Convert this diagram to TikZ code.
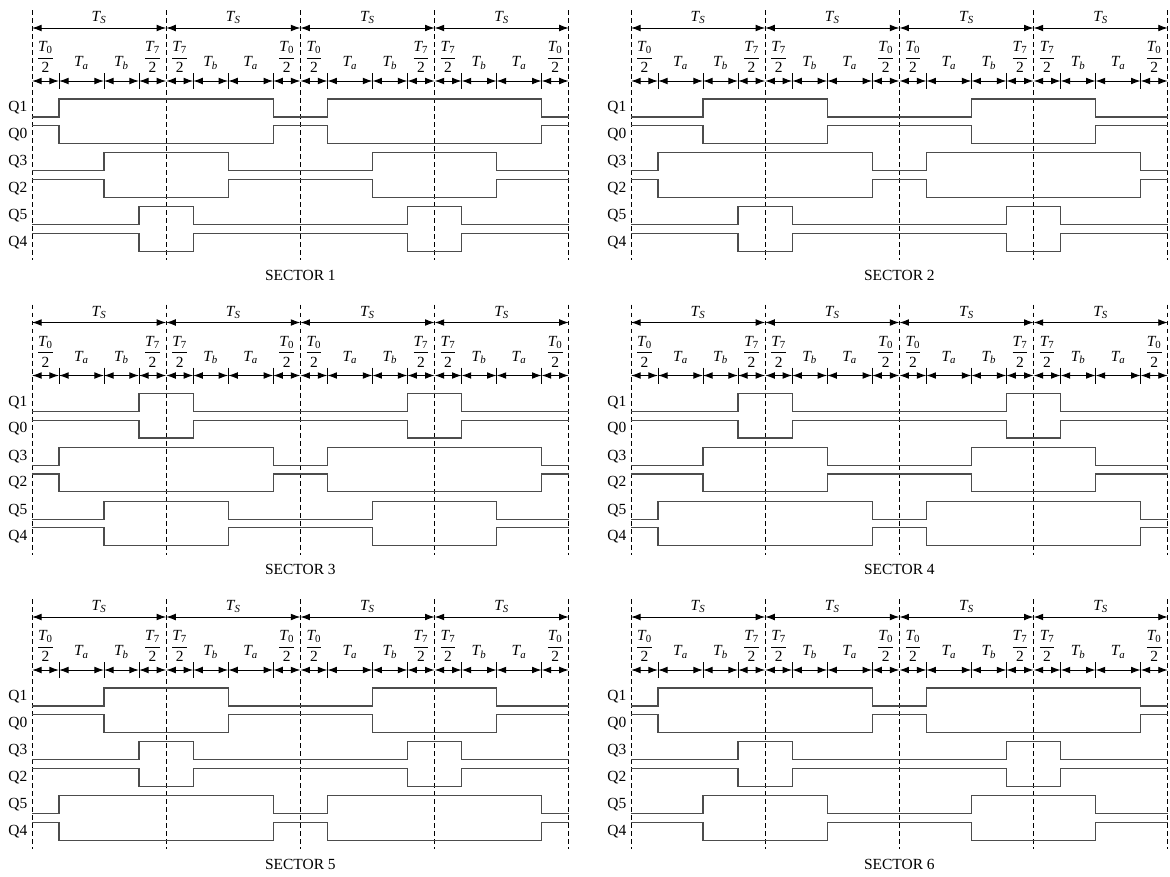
\documentclass[tikz,border=0pt]{standalone}
\usepackage{fontspec}
\setmainfont{Liberation Serif}
\usepackage{amsmath}
\usetikzlibrary{arrows.meta,calc}
\newcommand{\tv}[1]{\text{\itshape T}_{\text{#1}}}
\newcommand{\hv}[1]{$\dfrac{\tv{#1}}{\text{2}}$}

\begin{document}
\begin{tikzpicture}[x=0.025cm,y=-0.025cm,
	pulse/.style={draw=trace,line width=0.8pt},
	grid/.style={draw=black,line width=0.6pt,dash pattern=on 3.5pt off 2.2pt},
	span/.style={draw=black,line width=0.7pt,{Latex[length=6.8pt,width=4.8pt]}-{Latex[length=6.8pt,width=4.8pt]}},
	every node/.style={font=\fontsize{11}{13}\selectfont,inner sep=1pt}]
  \definecolor{trace}{rgb}{0.3,0.3,0.3};
	\useasboundingbox (0,0) rectangle (1170,876);
	\foreach \ns/\cx/\cy/\ra/\rb/\rc in {1/0/0/27/72/107, 2/599/0/72/27/107, 3/0/294.5/107/27/72,
		4/599/294.5/107/72/27, 5/0/589/72/107/27, 6/599/589/27/107/72}{
	\begin{scope}[shift={(\cx,\cy)}]
		% sampling periods
		\foreach \k in {0,...,4}{
			\coordinate (p\k) at (32+134.2*\k,28);
			\draw[grid] (32+134.2*\k,10) -- (32+134.2*\k,260);
		}
		\foreach \k [evaluate=\k as \n using int(\k+1)] in {0,...,3}
			\draw[span] (p\k) -- node[above=1.5pt] (ts\ns-\k) {$\tv{\itshape S}$} (p\n);
		% switching intervals
		\foreach \x [count=\i] in {0,27,72,107,134.2,161.2,196.2,241.2,268.4,295.4,340.4,375.4,402.6,429.6,464.6,509.6,536.8}
			\coordinate (b\i) at (32+\x,81);
		\foreach \lab/\ly [count=\i] in {\hv{0}/57,$\tv{\itshape a}$/63,$\tv{\itshape b}$/63,\hv{7}/57,
			\hv{7}/57,$\tv{\itshape b}$/63,$\tv{\itshape a}$/63,\hv{0}/57}{
			\foreach \h in {0,8}{
				\pgfmathtruncatemacro\bi{\i+\h}
				\pgfmathtruncatemacro\bj{\i+\h+1}
				\draw[span] (b\bi) -- (b\bj);
				\node (l\ns-\bi) at ($(b\bi)!0.5!(b\bj)+(0,\ly-81)$) {\lab};
			}
		}
		\foreach \i in {2,3,4,6,7,8,10,11,12,14,15,16}
			\draw[line width=0.7pt] ($(b\i)+(0,-8)$) -- ($(b\i)+(0,8)$);
		% gate signals
		\foreach \q/\sw [count=\m from 0] in {1/\ra,3/\rb,5/\rc}{
			\pgfmathsetmacro\yh{99+53.85*\m}
			\pgfmathtruncatemacro\qe{\q-1}
			\draw[pulse] (32,\yh+18) -| (32+\sw,\yh) -| (300.4-\sw,\yh+18) -| (300.4+\sw,\yh) -| (568.8-\sw,\yh+18) -- (568.8,\yh+18);
			\draw[pulse] (32,\yh+26.7) -| (32+\sw,\yh+44.5) -| (300.4-\sw,\yh+26.7) -| (300.4+\sw,\yh+44.5) -| (568.8-\sw,\yh+26.7) -- (568.8,\yh+26.7);
			\node[anchor=east] (q\ns-\q) at (29,\yh+9) {Q\q};
			\node[anchor=east] (q\ns-\qe) at (29,\yh+35.6) {Q\qe};
		}
		\node (sec\ns) at (300.4,275) {SECTOR \ns};
	\end{scope}
	}
\end{tikzpicture}
\end{document}
